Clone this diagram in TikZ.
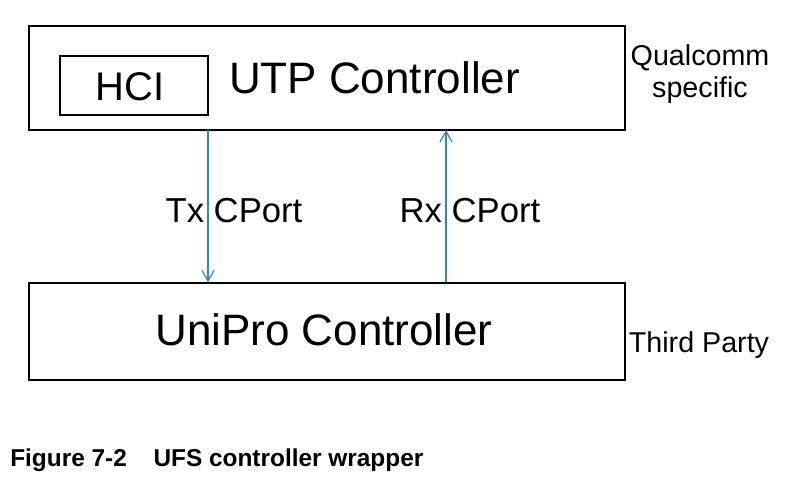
\documentclass[tikz,border=0pt]{standalone}
\usepackage{fontspec}
\setmainfont{Liberation Sans}
\usepackage{xcolor}
\definecolor{cportblue}{HTML}{2E86C1}
\definecolor{ink}{HTML}{000000}
\usetikzlibrary{arrows.meta,positioning}

\begin{document}
\begin{tikzpicture}[
  x=0.75pt, y=0.75pt,
  block/.style={draw=ink, line width=1.1pt, minimum width=447pt, inner sep=0pt},
  hcibox/.style={draw=ink, line width=1pt, minimum width=111pt, minimum height=44.25pt, inner sep=0pt},
  bigtext/.style={font=\fontsize{33}{40}\selectfont, text=ink, inner sep=0pt, anchor=base},
  porttext/.style={font=\fontsize{26}{31}\selectfont, text=ink, inner sep=0pt, anchor=base},
  sidetext/.style={font=\fontsize{21.5}{24}\selectfont, text=ink, inner sep=0pt},
  cport/.style={-{Straight Barb[length=8pt,width=9pt,line width=0.9pt]}, line width=0.9pt, color=cportblue}
]
\useasboundingbox (0,0) rectangle (808,487);

% upper block
\node[block, minimum height=78pt] (utp) at (327,409) {};
\node[hcibox] (hci) at (134,401.5) {};
\node[bigtext, font=\fontsize{30}{36}\selectfont] (hcilabel) at (130,387) {HCI};
\node[bigtext] (utplabel) at (374.5,394) {UTP Controller};

% lower block
\node[block, minimum height=72.75pt] (unipro) at (327,155.5) {};
\node[bigtext] (uniprolabel) at (324,142) {UniPro Controller};

% CPort connections
\coordinate (txtop) at (208,357);
\coordinate (rxtop) at (446,357);
\draw[cport] (txtop) -- (txtop |- unipro.north);
\draw[cport] (rxtop |- unipro.north) -- (rxtop);
\node[porttext] (txlabel) at (234,264.6) {Tx CPort};
\node[porttext] (rxlabel) at (470,264.6) {Rx CPort};

% side notes
\node[sidetext, align=center, anchor=north] (qcom) at (700,443) {Qualcomm\\specific};
\node[sidetext, anchor=base] (third) at (699,135) {Third Party};

% caption
\node[font=\fontsize{18.3}{22}\selectfont\bfseries, text=ink, inner sep=0pt, anchor=base west] (caption) at (10,20.5)
  {Figure 7-2\hspace{20pt}UFS controller wrapper};

\end{tikzpicture}
\end{document}
